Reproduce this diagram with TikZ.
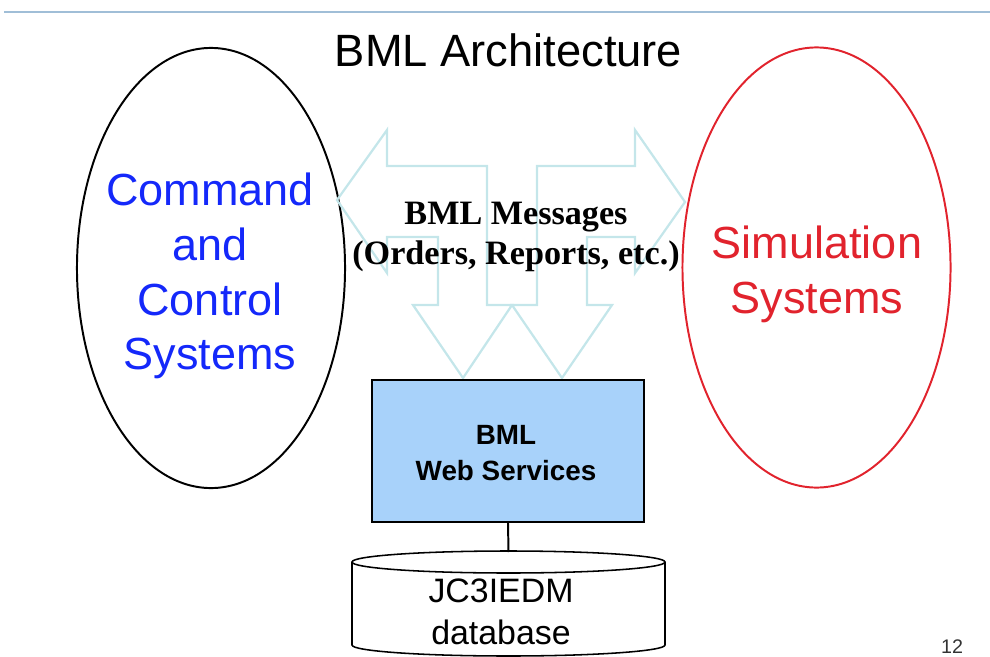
\documentclass[tikz,border=0pt]{standalone}
\usepackage{fontspec}
\setmainfont{Liberation Sans}
\newfontfamily\msgfont{Liberation Serif}
\usetikzlibrary{shapes.geometric}
\definecolor{CtrlBlue}{RGB}{20,40,250}
\definecolor{SimRed}{RGB}{225,35,45}
\definecolor{ArrowCyan}{RGB}{196,230,234}
\definecolor{BoxBlue}{RGB}{168,210,250}
\definecolor{RuleBlue}{RGB}{160,190,215}

\begin{document}
\begin{tikzpicture}[x=0.025cm,y=-0.025cm,
	bigtext/.style={align=center,font=\fontsize{32}{39}\selectfont},
	system/.style={draw,ellipse,line width=1.4pt,minimum width=6.7cm,minimum height=11cm},
	msgarrow/.style={draw=ArrowCyan,line width=1.6pt,line join=miter}
	]
	\useasboundingbox (0,0) rectangle (990,656);
	
	\draw[RuleBlue,line width=1pt] (4,12) -- (990,12);
	
	\node[
	font=\fontsize{32.2}{38}\selectfont,
	anchor=base
	]
	(title) at (508.5,67)
	{BML Architecture};
	
	\node[system] (C2) at (211,268) {};
	\node[system,draw=SimRed] (SIM) at (816.5,267.5) {};
	
	% message arrows
	\draw[msgarrow] (337,200) -- (387,130) -- (387,166) -- (487,166) -- (487,305)
		-- (512,305) -- (463,378) -- (413,305) -- (438,305) -- (438,237)
		-- (387,237) -- (387,273) -- cycle;
	\draw[msgarrow] (685,202) -- (635,130) -- (635,166) -- (537,166) -- (537,305)
		-- (512,305) -- (562,378) -- (612,305) -- (587,305) -- (587,237)
		-- (635,237) -- (635,273) -- cycle;
	
	\node[bigtext,text=CtrlBlue] (C2text) at (210,276) {Command\\and\\Control\\Systems};
	\node[bigtext,text=SimRed] (SIMtext) at (817,274) {Simulation\\Systems};
	
	\node[
	align=center,
	font=\msgfont\bfseries\fontsize{24.3}{28.5}\selectfont
	]
	(MSG) at (516,237)
	{BML Messages\\(Orders, Reports, etc.)};
	
	\node[
	draw,
	fill=BoxBlue,
	line width=1.6pt,
	minimum width=6.8cm,
	minimum height=3.55cm
	]
	(BWS) at (508,451)
	{};
	\node[
	align=center,
	font=\bfseries\fontsize{19.8}{25}\selectfont
	]
	(BWStext) at (506,453)
	{BML\\Web Services};
	
	% database
	\coordinate (DBtop) at (508.5,552);
	\draw[line width=1.1pt,fill=white] (352,562) -- (352,645)
		arc[start angle=180,end angle=0,x radius=156.5,y radius=11] -- (665,562);
	\draw[line width=1.1pt] (508.5,562) ellipse[x radius=156.5,y radius=11];
	\node[
	align=center,
	font=\fontsize{24.1}{29.9}\selectfont
	]
	(DB) at (501,612)
	{JC3IEDM\\database};
	
	\draw[line width=1.4pt] (BWS.south) -- (DBtop);
	
	\node[font=\fontsize{14}{16}\selectfont,text=black!80] (page) at (952,647) {12};
	
\end{tikzpicture}
\end{document}
